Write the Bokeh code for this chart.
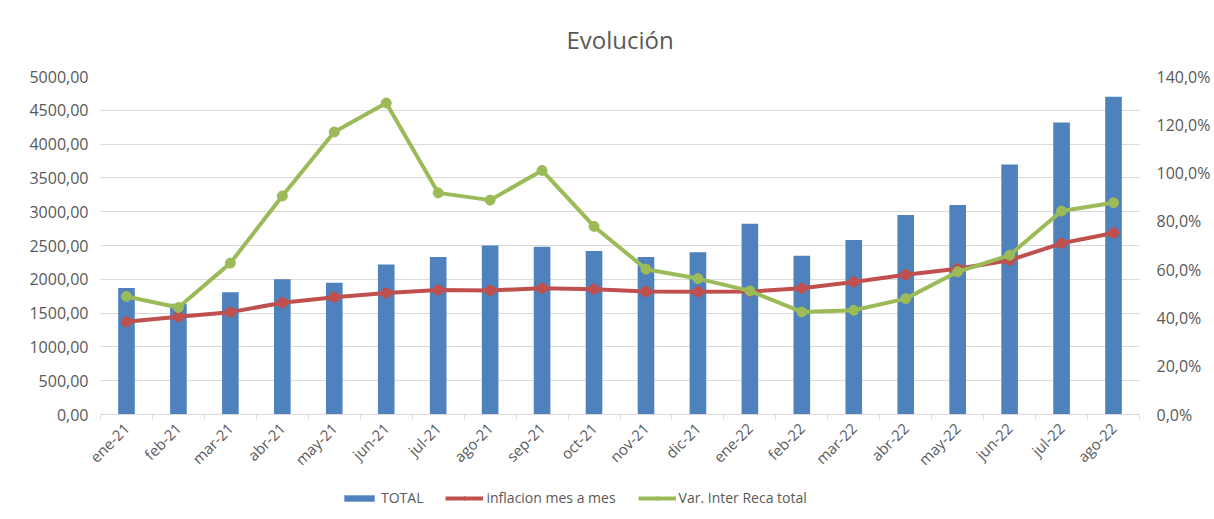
import math
from bokeh.plotting import figure
from bokeh.layouts import column
from bokeh.models import (Range1d, LinearAxis, FixedTicker, CustomJSTickFormatter,
                          Legend, LegendItem, ColumnDataSource)
from bokeh.embed import file_html
from bokeh.resources import INLINE

months = ["ene-21", "feb-21", "mar-21", "abr-21", "may-21", "jun-21", "jul-21",
          "ago-21", "sep-21", "oct-21", "nov-21", "dic-21", "ene-22", "feb-22",
          "mar-22", "abr-22", "may-22", "jun-22", "jul-22", "ago-22"]
total = [1870, 1640, 1810, 2000, 1950, 2220, 2330, 2500, 2480, 2420,
         2330, 2400, 2820, 2350, 2580, 2950, 3100, 3700, 4320, 4700]
inflacion = [38.4, 40.5, 42.4, 46.3, 48.6, 50.3, 51.6, 51.4, 52.3, 51.9,
             50.9, 50.8, 50.9, 52.3, 54.9, 57.9, 60.4, 63.9, 70.9, 75.2]
var_inter = [48.9, 44.3, 62.7, 90.5, 117.0, 129.0, 91.8, 88.8, 101.1, 77.9,
             60.2, 56.3, 51.2, 42.5, 43.2, 48.0, 59.1, 66.0, 84.3, 87.7]
left_ticks = [0, 500, 1000, 1500, 2000, 2500, 3000, 3500, 4000, 4500, 5000]
right_ticks = [0, 20, 40, 60, 80, 100, 120, 140]
series_names = ["TOTAL", "inflacion mes a mes", "Var. Inter Reca total"]

TEXT = "#595959"
GRID = "#D9D9D9"
BLUE = "#4F81BD"
RED = "#C0504D"
GREEN = "#9BBB59"
FONT = "Open Sans"

idx = list(range(len(months)))
src = ColumnDataSource(dict(x=idx, total=total, infl=inflacion, var=var_inter))

p = figure(width=1213, height=479, output_backend="svg", toolbar_location=None,
           x_range=Range1d(-0.5, len(months) - 0.5), y_range=Range1d(0, 5000),
           title="Evolución", min_border_left=100, min_border_right=74,
           min_border_top=75, min_border_bottom=65)
p.extra_y_ranges = {"pct": Range1d(0, 140)}
p.outline_line_color = None

p.title.align = "center"
p.title.text_font = FONT
p.title.text_font_size = "24px"
p.title.text_font_style = "normal"
p.title.text_color = TEXT
p.title.standoff = 41

# axes
p.xaxis.ticker = FixedTicker(ticks=idx, minor_ticks=[i - 0.5 for i in range(len(months) + 1)])
p.xaxis.formatter = CustomJSTickFormatter(args=dict(labels=months),
                                          code="return labels[Math.round(tick)] || '';")
p.xaxis.major_label_orientation = math.pi / 4
p.xaxis.axis_line_color = GRID
p.xaxis.major_tick_out = 0
p.xaxis.major_tick_in = 0
p.xaxis.minor_tick_out = 5
p.xaxis.minor_tick_in = 0
p.xaxis.minor_tick_line_color = GRID
p.xaxis.major_label_text_font = FONT
p.xaxis.major_label_text_font_size = "15px"
p.xaxis.major_label_text_color = TEXT
p.xaxis.major_label_standoff = 6

p.yaxis.ticker = FixedTicker(ticks=left_ticks)
p.yaxis.formatter = CustomJSTickFormatter(code="return tick.toFixed(2).replace('.', ',');")
p.yaxis.axis_line_color = None
p.yaxis.major_tick_line_color = None
p.yaxis.minor_tick_line_color = None
p.yaxis.major_label_text_font = FONT
p.yaxis.major_label_text_font_size = "16px"
p.yaxis.major_label_text_color = TEXT
p.yaxis.major_label_standoff = 6

raxis = LinearAxis(y_range_name="pct", ticker=FixedTicker(ticks=right_ticks),
                   formatter=CustomJSTickFormatter(code="return tick.toFixed(1).replace('.', ',') + '%';"))
raxis.axis_line_color = None
raxis.major_tick_line_color = None
raxis.minor_tick_line_color = None
raxis.major_label_text_font = FONT
raxis.major_label_text_font_size = "16px"
raxis.major_label_text_color = TEXT
raxis.major_label_standoff = 11
p.add_layout(raxis, "right")

p.xgrid.visible = False
p.ygrid.grid_line_color = GRID
p.ygrid.grid_line_width = 1

# glyphs
p.vbar(x="x", top="total", width=0.32, source=src, fill_color=BLUE, line_color=None)
p.line(x="x", y="infl", source=src, y_range_name="pct", line_color=RED, line_width=4)
p.scatter(x="x", y="infl", source=src, y_range_name="pct", size=10,
          fill_color=RED, line_color=RED)
p.line(x="x", y="var", source=src, y_range_name="pct", line_color=GREEN, line_width=4)
p.scatter(x="x", y="var", source=src, y_range_name="pct", size=10,
          fill_color=GREEN, line_color=GREEN)

# legend strip below the chart: same series, plotted outside its visible range,
# so only the legend swatches show
lf = figure(width=1213, height=36, output_backend="svg", toolbar_location=None,
            x_range=Range1d(-0.5, len(months) - 0.5), y_range=Range1d(-2, -1),
            x_axis_type=None, y_axis_type=None, min_border=0)
lf.outline_line_color = None
lf.grid.visible = False
lb = lf.vbar(x="x", top="total", bottom="total", width=0, source=src,
             fill_color=BLUE, line_color=None)
lrl = lf.line(x="x", y="infl", source=src, line_color=RED, line_width=4)
lrs = lf.scatter(x="x", y="infl", source=src, size=10, fill_color=RED, line_color=RED)
lgl = lf.line(x="x", y="var", source=src, line_color=GREEN, line_width=4)
lgs = lf.scatter(x="x", y="var", source=src, size=10, fill_color=GREEN, line_color=GREEN)

legend = Legend(items=[
    LegendItem(label=series_names[0], renderers=[lb]),
    LegendItem(label=series_names[1], renderers=[lrl, lrs]),
    LegendItem(label=series_names[2], renderers=[lgl, lgs]),
], orientation="horizontal", location=(240, 8))
legend.label_text_font = FONT
legend.label_text_font_size = "14px"
legend.label_text_color = TEXT
legend.glyph_width = 38
legend.glyph_height = 8
legend.label_standoff = 3
legend.spacing = 22
legend.border_line_color = None
legend.background_fill_alpha = 0
legend.padding = 0
legend.margin = 0
lf.add_layout(legend, "center")

layout = column(p, lf, spacing=0)

open("out.html", "w").write(file_html(layout, INLINE))
